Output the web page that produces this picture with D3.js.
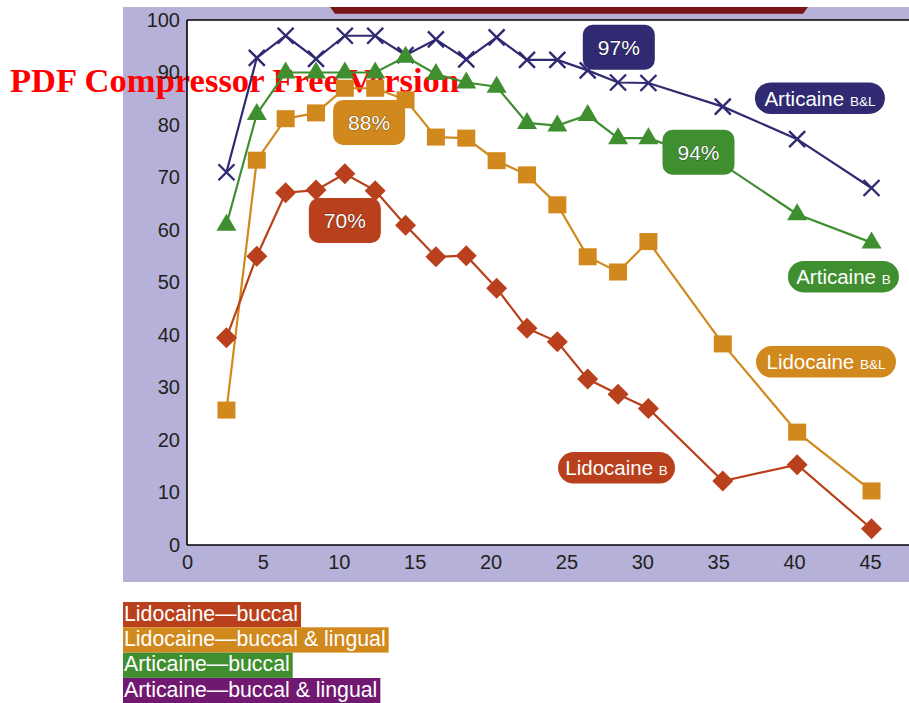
<!DOCTYPE html>
<html>
<head>
<meta charset="utf-8">
<script src="https://cdn.jsdelivr.net/npm/d3@7"></script>
<style>
  html, body { margin: 0; padding: 0; background: #ffffff; }
  svg { display: block; }
</style>
</head>
<body>
<svg id="chart" width="909" height="703"></svg>
<script>
// ---- data ----
const minutes = [2.6, 4.6, 6.5, 8.5, 10.4, 12.4, 14.4, 16.4, 18.4, 20.4, 22.4, 24.4, 26.4, 28.4, 30.4, 35.3, 40.2, 45.1];
const articaineBL = [71, 92.8, 97, 92.6, 97, 97, 93.3, 96.3, 92.5, 96.7, 92.4, 92.4, 90.4, 88.1, 88, 83.5, 77.3, 68];
const articaineB  = [61, 82.1, 90, 90, 90, 90, 93, 89.7, 88.1, 87.3, 80.4, 79.9, 81.9, 77.5, 77.5, 72.5, 63, 57.6];
const lidocaineBL = [25.7, 73.3, 81.2, 82.3, 87, 87, 84.8, 77.7, 77.5, 73.2, 70.5, 64.8, 54.9, 52, 57.8, 38.3, 21.5, 10.3];
const lidocaineB  = [39.5, 55, 67.1, 67.6, 70.7, 67.5, 60.9, 54.9, 55.1, 48.9, 41.3, 38.7, 31.6, 28.7, 26, 12.2, 15.3, 3.1];
const xTicks = [0, 5, 10, 15, 20, 25, 30, 35, 40, 45];
const yTicks = [0, 10, 20, 30, 40, 50, 60, 70, 80, 90, 100];
const legendLabels = ["Lidocaine\u2014buccal", "Lidocaine\u2014buccal & lingual", "Articaine\u2014buccal", "Articaine\u2014buccal & lingual"];
const peakLabels = ["97%", "94%", "88%", "70%"];
const seriesNames = ["Articaine", "Articaine", "Lidocaine", "Lidocaine"];
const seriesSubs = ["B&L", "B", "B&L", "B"];

// ---- colours ----
const C = {
  lav: "#b5b1d9", band: "#7a1517",
  red: "#b9401c", orange: "#d1881d", green: "#3f8f30", navy: "#2f2a72", purple: "#711870",
  ink: "#231f20"
};

const svg = d3.select("#chart");
const x = d3.scaleLinear().domain([0, 45]).range([187, 870]);
const y = d3.scaleLinear().domain([0, 100]).range([545, 20]);
const FONT = "'Liberation Sans', Arial, Helvetica, sans-serif";

// backgrounds
svg.append("rect").attr("x", 123).attr("y", 7).attr("width", 786).attr("height", 575).attr("fill", C.lav);
svg.append("path").attr("d", "M330,7 L808,7 L803,13.7 L335,13.7 Z").attr("fill", C.band);
svg.append("rect").attr("x", 187).attr("y", 20).attr("width", 722).attr("height", 525).attr("fill", "#fff");

// watermark
svg.append("text").attr("x", 10).attr("y", 92)
  .attr("font-family", "'Liberation Serif', 'Times New Roman', serif")
  .attr("font-weight", "bold").attr("font-size", 34.6).attr("fill", "#ff0000")
  .text("PDF Compressor Free Version");

// frame lines
svg.append("line").attr("x1", 187).attr("x2", 909).attr("y1", 20).attr("y2", 20).attr("stroke", "#000").attr("stroke-width", 1.6);
svg.append("line").attr("x1", 187).attr("x2", 187).attr("y1", 20).attr("y2", 545).attr("stroke", "#000").attr("stroke-width", 1.6);
svg.append("line").attr("x1", 187).attr("x2", 909).attr("y1", 545).attr("y2", 545).attr("stroke", "#000").attr("stroke-width", 1.6);

// axes
const yAxis = svg.append("g").attr("transform", "translate(187,0)")
  .call(d3.axisLeft(y).tickValues(yTicks).tickSize(0).tickPadding(7).tickFormat(d3.format("d")));
const xAxis = svg.append("g").attr("transform", "translate(0,545)")
  .call(d3.axisBottom(x).tickValues(xTicks).tickSize(0).tickPadding(10).tickFormat(d3.format("d")));
[yAxis, xAxis].forEach(g => {
  g.select(".domain").remove();
  g.selectAll("text").attr("font-family", FONT).attr("font-size", 20).attr("fill", C.ink);
});

// series
const line = d3.line().x(d => x(d[0])).y(d => y(d[1]));
const series = [
  { vals: articaineBL, color: C.navy, marker: "x" },
  { vals: articaineB, color: C.green, marker: "tri" },
  { vals: lidocaineBL, color: C.orange, marker: "sq" },
  { vals: lidocaineB, color: C.red, marker: "dia" }
];
series.forEach(s => {
  const pts = minutes.map((m, i) => [m, s.vals[i]]);
  const g = svg.append("g");
  g.append("path").attr("d", line(pts)).attr("fill", "none").attr("stroke", s.color).attr("stroke-width", 2.2);
  const mk = g.selectAll("g.m").data(pts).join("g").attr("transform", d => `translate(${x(d[0])},${y(d[1])})`);
  if (s.marker === "x") {
    mk.append("path").attr("d", "M-8,-8L8,8M-8,8L8,-8").attr("stroke", s.color).attr("stroke-width", 2.4).attr("fill", "none");
  } else if (s.marker === "tri") {
    mk.append("path").attr("d", "M0,-11L10,6L-10,6Z").attr("fill", s.color);
  } else if (s.marker === "sq") {
    mk.append("rect").attr("x", -9).attr("y", -8.5).attr("width", 18).attr("height", 17).attr("fill", s.color);
  } else {
    mk.append("path").attr("d", "M0,-10.5L10.5,0L0,10.5L-10.5,0Z").attr("fill", s.color);
  }
});

// peak labels (centre in data units)
const peakPos = [[28.45, 94.8], [33.7, 74.8], [12.0, 80.5], [10.4, 61.8]];
const peakCols = [C.navy, C.green, C.orange, C.red];
peakLabels.forEach((t, i) => {
  const cx = x(peakPos[i][0]), cy = y(peakPos[i][1]);
  svg.append("rect").attr("x", cx - 36).attr("y", cy - 22.5).attr("width", 72).attr("height", 45)
    .attr("rx", 10).attr("fill", peakCols[i]);
  svg.append("text").attr("x", cx).attr("y", cy + 7.5).attr("text-anchor", "middle")
    .attr("font-family", FONT).attr("font-size", 21).attr("fill", "#fff")
    .attr("stroke", "rgba(0,0,0,0.45)").attr("stroke-width", 1).attr("paint-order", "stroke")
    .text(t);
});

// series name pills
const namePos = [[41.7, 85.1], [43.25, 51.1], [42.1, 34.9], [28.3, 14.7]];
const nameW = [130, 111, 140, 117];
const nameCols = [C.navy, C.green, C.orange, C.red];
seriesNames.forEach((n, i) => {
  const cx = x(namePos[i][0]), cy = y(namePos[i][1]);
  const w = nameW[i], h = 31.5;
  svg.append("rect").attr("x", cx - w / 2).attr("y", cy - h / 2).attr("width", w).attr("height", h)
    .attr("rx", h / 2).attr("fill", nameCols[i]);
  const t = svg.append("text").attr("x", cx).attr("y", cy + 7.5).attr("text-anchor", "middle")
    .attr("font-family", FONT).attr("fill", "#fff");
  t.append("tspan").attr("font-size", 20.5).text(n + " ");
  t.append("tspan").attr("font-size", 13.5).text(seriesSubs[i]);
});

// legend
const legCols = [C.red, C.orange, C.green, C.purple];
const legTop = [602, 627.3, 652.6, 678];
legendLabels.forEach((l, i) => {
  const g = svg.append("g");
  const txt = g.append("text").attr("x", 124).attr("y", legTop[i] + 18.8)
    .attr("font-family", FONT).attr("font-size", 21.3).attr("fill", "#fff").text(l);
  const w = txt.node().getComputedTextLength();
  g.insert("rect", "text").attr("x", 123).attr("y", legTop[i]).attr("width", w + 4).attr("height", 25.3).attr("fill", legCols[i]);
});
</script>
</body>
</html>
